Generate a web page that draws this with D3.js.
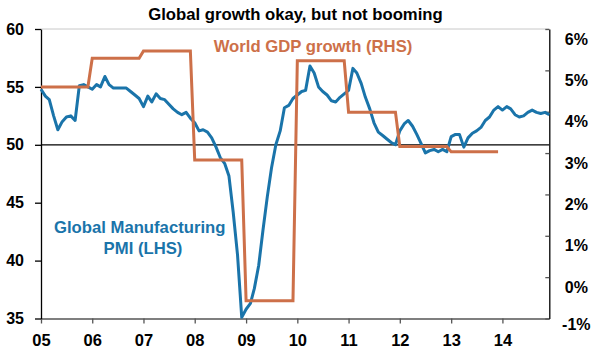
<!DOCTYPE html>
<html>
<head>
<meta charset="utf-8">
<script src="https://cdn.jsdelivr.net/npm/d3@7"></script>
<style>
body { margin: 0; background: #fff; }
svg { display: block; }
text { font-family: "Liberation Sans", Arial, sans-serif; font-weight: bold; }
</style>
</head>
<body>
<div id="chart"></div>
<script>
// monthly global manufacturing PMI, Jan 2005 - Dec 2014 (LHS)
var pmiStart = [2005, 0];
var pmi = [
    54.8, 54.2, 53.9, 52.5, 51.3, 52.0, 52.4, 52.5, 52.1, 55.1, 55.2, 55.0,
    54.8, 55.2, 55.0, 55.9, 55.2, 54.9, 54.9, 54.9, 54.9, 54.6, 54.3, 54.0,
    53.3, 54.2, 53.7, 54.4, 54.0, 53.9, 53.5, 53.1, 52.8, 52.6, 52.8, 52.3,
    51.9, 51.2, 51.3, 51.1, 50.6, 49.8, 48.9, 48.4, 47.3, 44.2, 40.5, 35.1,
    35.8, 36.3, 37.6, 39.6, 42.6, 45.5, 48.0, 50.0, 51.2, 53.2, 53.4, 54.0,
    54.3, 54.6, 54.7, 56.8, 56.2, 55.0, 54.6, 54.3, 53.8, 53.7, 54.1, 54.4,
    54.7, 56.6, 56.2, 55.3, 54.1, 53.1, 51.9, 51.1, 50.8, 50.5, 50.2, 50.0,
    51.2, 51.8, 52.1, 51.6, 50.9, 50.1, 49.3, 49.5, 49.6, 49.4, 49.6, 49.4,
    50.7, 50.9, 50.9, 49.8, 50.6, 51.0, 51.2, 51.5, 52.1, 52.4, 53.0, 53.3,
    53.0, 53.3, 53.1, 52.6, 52.4, 52.5, 52.8, 53.0, 52.8, 52.7, 52.8, 52.6
];

// annual world GDP growth, % (RHS)
var gdpYears = [2005, 2006, 2007, 2008, 2009, 2010, 2011, 2012, 2013];
var gdpGrowth = [4.6, 5.29, 5.47, 2.83, -0.57, 5.23, 3.99, 3.16, 3.03];

var yearTicks = [2005, 2006, 2007, 2008, 2009, 2010, 2011, 2012, 2013, 2014];
var leftTicks = [35, 40, 45, 50, 55, 60];
var rightTicks = [-1, 0, 1, 2, 3, 4, 5, 6];

var chartW = 596, chartH = 362;
var padL = 41, padR = 549.3, padT = 29, padB = 318.5;
var blue = "#1a74aa", orange = "#cd7049";

var svg = d3.select("#chart").append("svg")
    .attr("width", chartW)
    .attr("height", chartH);

var x = d3.scaleTime()
    .domain([new Date(2005, 0, 1), new Date(2014, 11, 1)])
    .range([padL, padR]);
var yL = d3.scaleLinear().domain([35, 60]).range([padB, padT]);
var yR = d3.scaleLinear().domain([-1, 6]).range([padB, padT]);

// top border of plot area
svg.append("line")
    .attr("x1", padL).attr("x2", padR)
    .attr("y1", padT).attr("y2", padT)
    .attr("stroke", "#c8c8c8").attr("stroke-width", 1);

// 50 line
svg.append("line")
    .attr("x1", padL).attr("x2", padR)
    .attr("y1", yL(50)).attr("y2", yL(50))
    .attr("stroke", "#000").attr("stroke-width", 1.2);

// x axis
var gx = svg.append("g")
    .attr("transform", "translate(0," + padB + ")")
    .call(d3.axisBottom(x)
        .tickValues(yearTicks.map(function(y) { return new Date(y, 0, 1); }))
        .tickSize(5)
        .tickSizeOuter(0)
        .tickFormat(d3.timeFormat("%y")));
gx.select(".domain").attr("stroke", "#555").attr("stroke-width", 1.3);
gx.selectAll(".tick line").attr("stroke", "#555").attr("stroke-width", 1.3);
gx.selectAll(".tick text")
    .attr("y", 22)
    .attr("dy", "0.35em")
    .attr("font-size", 16.5)
    .attr("fill", "#000");

// left axis
var gl = svg.append("g")
    .attr("transform", "translate(" + padL + ",0)")
    .call(d3.axisLeft(yL).tickValues(leftTicks).tickSize(6).tickSizeOuter(0));
gl.select(".domain").attr("stroke", "#000").attr("stroke-width", 1.3);
gl.selectAll(".tick line").attr("stroke", "#000").attr("stroke-width", 1.3);
gl.selectAll(".tick text")
    .attr("x", -17)
    .attr("font-size", 16)
    .attr("fill", "#000");

// right axis, ticks inside
var gr = svg.append("g")
    .attr("transform", "translate(" + padR + ",0)")
    .call(d3.axisRight(yR).tickValues(rightTicks).tickSize(0).tickSizeOuter(0)
        .tickFormat(function(d) { return d + "%"; }));
gr.select(".domain").attr("stroke", "#000").attr("stroke-width", 1.3);
gr.selectAll(".tick").append("line")
    .attr("x1", -4).attr("x2", 0)
    .attr("stroke", "#555").attr("stroke-width", 1.3);
gr.selectAll(".tick text")
    .attr("x", 27)
    .attr("text-anchor", "middle")
    .attr("y", function(d) { return d === -1 ? 5.5 : 10; })
    .attr("font-size", 16)
    .attr("fill", "#000");

// PMI line
var pmiLine = d3.line()
    .x(function(d, i) { return x(new Date(pmiStart[0], pmiStart[1] + i, 1)); })
    .y(function(d) { return yL(d); });

svg.append("path")
    .datum(pmi)
    .attr("fill", "none")
    .attr("stroke", blue)
    .attr("stroke-width", 3)
    .attr("stroke-linejoin", "round")
    .attr("d", pmiLine);

// GDP: each year's value held from January to December
var gdpPoints = [];
gdpYears.forEach(function(yr, i) {
    gdpPoints.push({ date: new Date(yr, 0, 1), v: gdpGrowth[i] });
    gdpPoints.push({ date: new Date(yr, 11, 1), v: gdpGrowth[i] });
});

var gdpLine = d3.line()
    .x(function(d) { return x(d.date); })
    .y(function(d) { return yR(d.v); });

svg.append("path")
    .datum(gdpPoints)
    .attr("fill", "none")
    .attr("stroke", orange)
    .attr("stroke-width", 3)
    .attr("d", gdpLine);

// title and labels
svg.append("text")
    .attr("x", 295.5).attr("y", 19.5)
    .attr("text-anchor", "middle")
    .attr("font-size", 16.7)
    .attr("fill", "#000")
    .text("Global growth okay, but not booming");

svg.append("text")
    .attr("x", 313).attr("y", 52.3)
    .attr("text-anchor", "middle")
    .attr("font-size", 16.7)
    .attr("fill", orange)
    .text("World GDP growth (RHS)");

svg.append("text")
    .attr("x", 139.7).attr("y", 233)
    .attr("text-anchor", "middle")
    .attr("font-size", 16.7)
    .attr("fill", blue)
    .text("Global Manufacturing");

svg.append("text")
    .attr("x", 143).attr("y", 253.5)
    .attr("text-anchor", "middle")
    .attr("font-size", 16.7)
    .attr("fill", blue)
    .text("PMI (LHS)");
</script>
</body>
</html>
